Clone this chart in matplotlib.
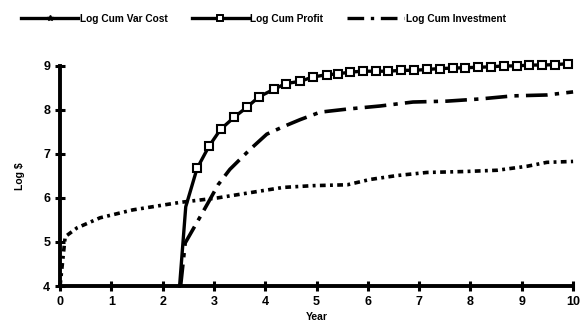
import matplotlib
matplotlib.use('Agg')
import matplotlib.pyplot as plt
from matplotlib.lines import Line2D

plt.rcParams['font.family'] = ['Liberation Sans', 'DejaVu Sans']

# Log cumulative variable cost
var_years = [0, 0.1, 0.33, 0.78, 1.42, 2.34, 3.06, 3.7, 4.35, 4.93, 5.6,
             6.04, 6.57, 7.15, 7.86, 8.52, 9.1, 9.49, 10]
var_cost = [4.0, 5.12, 5.32, 5.55, 5.73, 5.9, 6.0, 6.12, 6.24, 6.28, 6.3,
            6.42, 6.51, 6.58, 6.6, 6.63, 6.72, 6.81, 6.83]

# Log cumulative profit (quarterly markers)
profit_years = [2.33, 2.45, 2.67, 2.9, 3.13, 3.4, 3.64, 3.88, 4.17, 4.4,
                4.68, 4.93, 5.2, 5.42, 5.65, 5.9, 6.15, 6.4, 6.65, 6.9,
                7.15, 7.4, 7.65, 7.9, 8.15, 8.4, 8.65, 8.9, 9.15, 9.4,
                9.65, 9.9]
profit = [4.0, 5.8, 6.67, 7.17, 7.56, 7.84, 8.06, 8.3, 8.47, 8.6,
          8.65, 8.75, 8.8, 8.82, 8.86, 8.88, 8.88, 8.88, 8.9, 8.9,
          8.92, 8.94, 8.95, 8.96, 8.97, 8.98, 9.0, 9.0, 9.02, 9.02,
          9.03, 9.05]

# Log cumulative investment
inv_years = [2.35, 2.44, 2.73, 2.9, 3.08, 3.31, 3.7, 4.03, 4.35, 4.68,
             5.07, 5.6, 6.24, 6.88, 7.54, 8.19, 8.83, 9.49, 10]
investment = [4.0, 4.98, 5.57, 5.92, 6.3, 6.65, 7.1, 7.45, 7.62, 7.78,
              7.95, 8.02, 8.09, 8.18, 8.2, 8.25, 8.32, 8.34, 8.41]

fig = plt.figure(figsize=(5.83, 3.28), dpi=100)
ax = fig.add_axes([0.103, 0.128, 0.88, 0.671])

ax.plot(var_years, var_cost, color='black', lw=2.6,
        linestyle=(0, (1.6, 1.2, 0.8, 1.2)), clip_on=False)
ax.plot(profit_years, profit, color='black', lw=2.4, marker='s',
        markersize=5.5, markerfacecolor='white', markeredgecolor='black',
        markeredgewidth=1.5, markevery=slice(2, None), clip_on=False)
ax.plot(inv_years, investment, color='black', lw=2.6,
        linestyle=(0, (6, 2, 1.2, 2)), clip_on=False)

ax.set_xlim(0, 10)
ax.set_ylim(4, 9)
ax.set_xticks(range(0, 11))
ax.set_yticks(range(4, 10))
for s in ['top', 'right']:
    ax.spines[s].set_visible(False)
for s in ['left', 'bottom']:
    ax.spines[s].set_linewidth(2.8)
ax.tick_params(direction='inout', length=7, width=2.2, labelsize=9)
for lbl in ax.get_xticklabels() + ax.get_yticklabels():
    lbl.set_fontweight('bold')
ax.set_xlabel('Year', fontsize=7.5, fontweight='bold', labelpad=3)
ax.set_ylabel('Log $', fontsize=7.5, fontweight='bold', labelpad=13)

handles = [
    Line2D([], [], color='black', lw=2.4, marker='*', markersize=4),
    Line2D([], [], color='black', lw=2.4, marker='s', markersize=5,
           markerfacecolor='white', markeredgewidth=1.4),
    Line2D([], [], color='black', lw=2.4, linestyle=(0, (5, 2, 1, 2))),
]
labels = ['Log Cum Var Cost', 'Log Cum Profit', 'Log Cum Investment']
fig.legend(handles, labels, loc='upper center', bbox_to_anchor=(0.452, 0.985),
           ncol=3, frameon=False, handlelength=5.6, handletextpad=0.15,
           columnspacing=2.4, numpoints=1, prop={'size': 7.3, 'weight': 'bold'})

fig.savefig('out.png', dpi=100)
